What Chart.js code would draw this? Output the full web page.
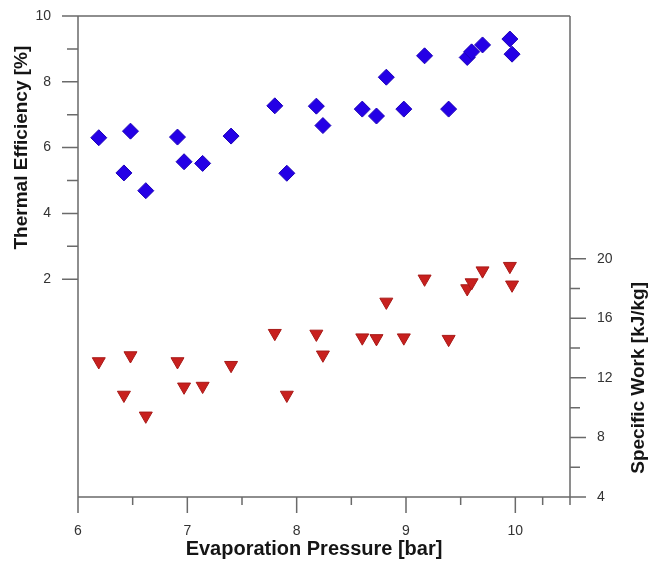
<!DOCTYPE html>
<html>
<head>
<meta charset="utf-8">
<script src="https://cdn.jsdelivr.net/npm/chart.js@4.4.1/dist/chart.umd.min.js"></script>
<style>
  html, body { margin: 0; padding: 0; background: #fff; }
  canvas { display: block; }
</style>
</head>
<body>
<canvas id="chart" width="649" height="562"></canvas>
<script>
// evaporation pressure [bar] for each run
const pressure = [6.19, 6.42, 6.48, 6.62, 6.91, 6.97, 7.14, 7.40, 7.80, 7.91, 8.18, 8.24,
  8.60, 8.73, 8.82, 8.98, 9.17, 9.39, 9.56, 9.60, 9.70, 9.95, 9.97];
// thermal efficiency [%]
const efficiency = [6.30, 5.23, 6.50, 4.69, 6.32, 5.57, 5.52, 6.35, 7.27, 5.22, 7.26, 6.67,
  7.17, 6.96, 8.14, 7.17, 8.79, 7.17, 8.74, 8.91, 9.12, 9.30, 8.84];
// specific work [kJ/kg]
const specificWork = [13.1, 10.85, 13.5, 9.45, 13.1, 11.4, 11.45, 12.85, 15.0, 10.85, 14.95, 13.55,
  14.7, 14.65, 17.1, 14.7, 18.65, 14.6, 18.0, 18.4, 19.2, 19.5, 18.25];

const pressureTicks = [6, 7, 8, 9, 10];
const efficiencyTicks = [2, 4, 6, 8, 10];
const workTicks = [4, 8, 12, 16, 20];

const AXIS_COLOR = "#6a6a6a";
const LABEL_FONT = { family: "'Liberation Sans', Arial, sans-serif", size: 14 };
const TITLE_FAMILY = "'Liberation Sans', Arial, sans-serif";

const toPoints = (ys) => pressure.map((x, i) => ({ x: x, y: ys[i] }));
const midpoints = (ticks) => ticks.slice(1).map((t, i) => (t + ticks[i]) / 2);
const fixTicks = (list) => (scale) => { scale.ticks = list.map(v => ({ value: v })); };

// fixed axis boxes so the plot area lands at 78..570 x 16..497
const fitVertical = (w) => (s) => { s.width = w; s.paddingTop = 0; s.paddingBottom = 0; };
const fitHorizontal = (h) => (s) => { s.height = h; s.paddingLeft = 0; s.paddingRight = 0; };

// frame, tick marks (long major, short minor) and axis titles
const axisDecor = {
  id: "axisDecor",
  afterDraw(chart) {
    const { ctx, chartArea: a, scales } = chart;
    const x = scales.x, y = scales.y, y2 = scales.y2;
    ctx.save();
    ctx.strokeStyle = AXIS_COLOR;
    ctx.lineWidth = 1.5;
    ctx.beginPath();
    // frame
    ctx.moveTo(a.left - 16, a.top); ctx.lineTo(a.right, a.top);
    ctx.moveTo(a.left, a.top); ctx.lineTo(a.left, a.bottom + 16);
    ctx.moveTo(a.right, a.top); ctx.lineTo(a.right, a.bottom + 8);
    ctx.moveTo(a.left, a.bottom); ctx.lineTo(a.right + 16, a.bottom);
    // left axis
    efficiencyTicks.forEach(v => { const p = y.getPixelForValue(v); ctx.moveTo(a.left - 16, p); ctx.lineTo(a.left, p); });
    midpoints(efficiencyTicks).forEach(v => { const p = y.getPixelForValue(v); ctx.moveTo(a.left - 11, p); ctx.lineTo(a.left, p); });
    // right axis
    workTicks.forEach(v => { const p = y2.getPixelForValue(v); ctx.moveTo(a.right, p); ctx.lineTo(a.right + 16, p); });
    midpoints(workTicks).forEach(v => { const p = y2.getPixelForValue(v); ctx.moveTo(a.right, p); ctx.lineTo(a.right + 10, p); });
    // bottom axis
    pressureTicks.forEach(v => { const p = x.getPixelForValue(v); ctx.moveTo(p, a.bottom); ctx.lineTo(p, a.bottom + 16); });
    midpoints(pressureTicks.concat([10.5])).forEach(v => { const p = x.getPixelForValue(v); ctx.moveTo(p, a.bottom); ctx.lineTo(p, a.bottom + 8); });
    ctx.stroke();

    ctx.fillStyle = "#151515";
    ctx.textAlign = "center";
    ctx.textBaseline = "alphabetic";

    ctx.font = "bold 19px " + TITLE_FAMILY;
    const effMid = (y.getPixelForValue(2) + y.getPixelForValue(10)) / 2;
    ctx.save();
    ctx.translate(27, effMid);
    ctx.rotate(-Math.PI / 2);
    ctx.fillText("Thermal Efficiency [%]", 0, 0);
    ctx.restore();

    const workMid = (y2.getPixelForValue(4) + y2.getPixelForValue(20)) / 2;
    ctx.save();
    ctx.translate(644, workMid);
    ctx.rotate(-Math.PI / 2);
    ctx.fillText("Specific Work [kJ/kg]", 0, 0);
    ctx.restore();

    ctx.font = "bold 20px " + TITLE_FAMILY;
    ctx.fillText("Evaporation Pressure [bar]", (a.left + a.right) / 2 - 10, 555);
    ctx.restore();
  }
};

new Chart(document.getElementById("chart"), {
  type: "scatter",
  plugins: [axisDecor],
  data: {
    datasets: [
      {
        label: "Thermal Efficiency",
        data: toPoints(efficiency),
        yAxisID: "y",
        pointStyle: "rectRot",
        pointRadius: 8,
        backgroundColor: "#2400e6",
        borderColor: "#1c00b8",
        borderWidth: 1,
      },
      {
        label: "Specific Work",
        data: toPoints(specificWork),
        yAxisID: "y2",
        pointStyle: "triangle",
        rotation: 180,
        pointRadius: 7.5,
        backgroundColor: "#c8201e",
        borderColor: "#a81a18",
        borderWidth: 1,
      },
    ],
  },
  options: {
    responsive: false,
    animation: false,
    layout: { padding: { top: 16, left: 0, right: 0, bottom: 0 } },
    plugins: { legend: { display: false }, tooltip: { enabled: false } },
    scales: {
      x: {
        type: "linear",
        min: 6,
        max: 10.5,
        afterBuildTicks: fixTicks(pressureTicks),
        afterFit: fitHorizontal(65),
        grid: { display: false },
        border: { display: false },
        ticks: { font: LABEL_FONT, color: "#333", padding: 18, maxRotation: 0 },
      },
      y: {
        position: "left",
        min: -4.62,
        max: 10,
        afterBuildTicks: fixTicks(efficiencyTicks),
        afterFit: fitVertical(78),
        grid: { display: false },
        border: { display: false },
        ticks: { font: LABEL_FONT, color: "#333", padding: 19 },
      },
      y2: {
        position: "right",
        min: 4,
        max: 36.3,
        afterBuildTicks: fixTicks(workTicks),
        afterFit: fitVertical(79),
        grid: { display: false },
        border: { display: false },
        ticks: { font: LABEL_FONT, color: "#333", padding: 19 },
      },
    },
  },
});
</script>
</body>
</html>
